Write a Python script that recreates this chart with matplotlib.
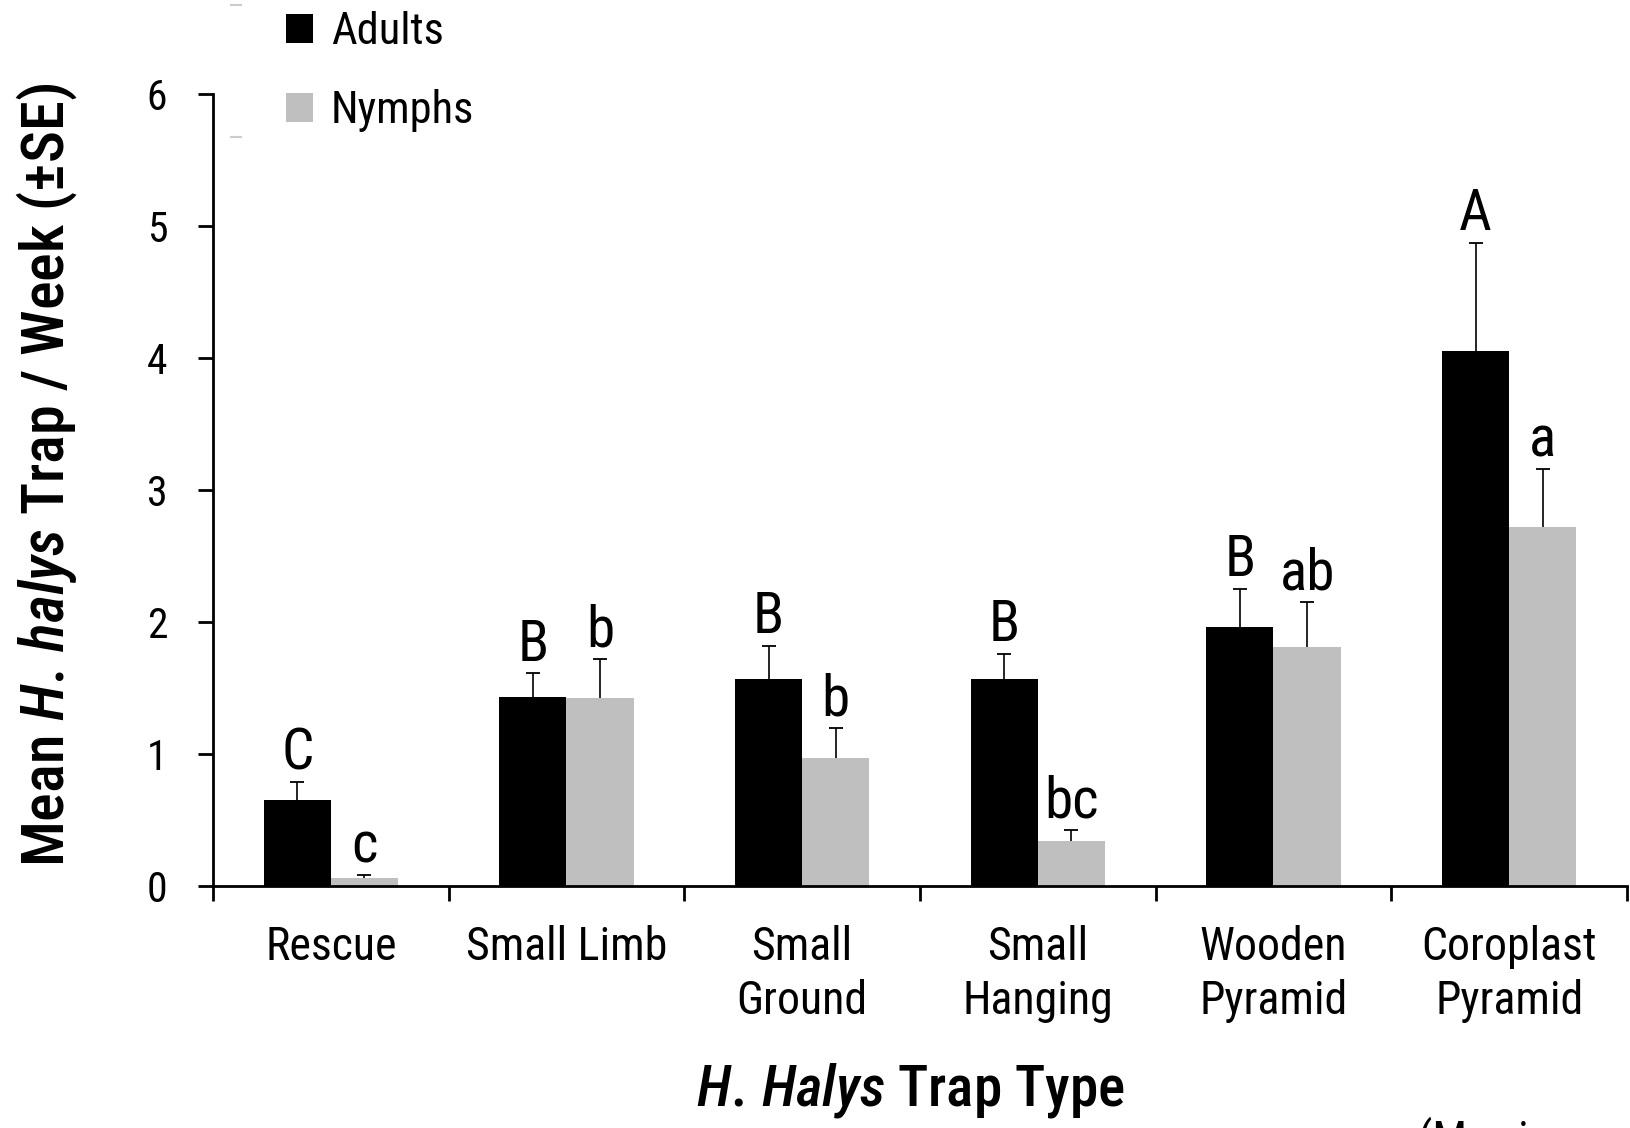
import matplotlib
matplotlib.use('Agg')
import matplotlib.pyplot as plt
from matplotlib import font_manager
from matplotlib.lines import Line2D
import numpy as np

# trap types and means
traps = ['Rescue', 'Small Limb', 'Small\nGround', 'Small\nHanging', 'Wooden\nPyramid', 'Coroplast\nPyramid']
adults = [0.65, 1.43, 1.57, 1.57, 1.96, 4.05]
adults_se = [0.14, 0.18, 0.25, 0.19, 0.29, 0.82]
nymphs = [0.06, 1.42, 0.97, 0.34, 1.81, 2.72]
nymphs_se = [0.02, 0.30, 0.23, 0.085, 0.34, 0.44]
adult_letters = ['C', 'B', 'B', 'B', 'B', 'A']
nymph_letters = ['c', 'b', 'b', 'bc', 'ab', 'a']

names = set(f.name for f in font_manager.fontManager.ttflist)
fam = 'Roboto Condensed' if 'Roboto Condensed' in names else 'Liberation Sans'
plt.rcParams['font.family'] = [fam, 'DejaVu Sans']
plt.rcParams['mathtext.fontset'] = 'custom'
plt.rcParams['mathtext.it'] = fam + ':italic:medium'
plt.rcParams['mathtext.rm'] = fam + ':medium'
plt.rcParams['mathtext.bf'] = fam + ':bold'

fig = plt.figure(figsize=(16.31, 11.28), dpi=100)
ax = fig.add_axes([213 / 1631, 1 - 886 / 1128, (1627 - 213) / 1631, (886 - 93.6) / 1128])

x = np.arange(len(traps))
w = 0.285
b1 = ax.bar(x - w / 2, adults, w, color='black', label='Adults')
b2 = ax.bar(x + w / 2, nymphs, w, color='#bfbfbf', label='Nymphs')

# upper error bars only
for xs, m, se in [(x - w / 2, adults, adults_se), (x + w / 2, nymphs, nymphs_se)]:
    top = np.array(m) + np.array(se)
    ax.vlines(xs, m, top, color='black', lw=1.2, zorder=3)
    ax.plot(xs, top, ls='none', marker='_', ms=10, mew=1.3, color='black', zorder=3)

for i in range(len(traps)):
    ax.annotate(adult_letters[i], (x[i] - w / 2, adults[i] + adults_se[i]),
                xytext=(0, 9), textcoords='offset points', ha='center', va='baseline', fontsize=41)
    ax.annotate(nymph_letters[i], (x[i] + w / 2, nymphs[i] + nymphs_se[i]),
                xytext=(0, 9), textcoords='offset points', ha='center', va='baseline', fontsize=41)

ax.set_xlim(-0.5, len(traps) - 0.5)
ax.set_ylim(0, 6)
ax.set_yticks(range(7))
ax.set_xticks(np.arange(-0.5, len(traps), 1.0))
ax.set_xticklabels([])
ax.set_xticks(x, minor=True)
ax.set_xticklabels(traps, minor=True, fontsize=33, va='top', linespacing=1.3)
ax.tick_params(axis='x', which='minor', length=0, pad=28)
ax.tick_params(axis='x', which='major', direction='out', length=11, width=2)
ax.tick_params(axis='y', direction='out', length=11, width=2, labelsize=30, pad=22)
for s in ['top', 'right']:
    ax.spines[s].set_visible(False)
for s in ['left', 'bottom']:
    ax.spines[s].set_linewidth(2)

fig.text(47 / 1631, 0.579, r'Mean $\mathit{H.\,halys}$ Trap / Week (±SE)', rotation=90,
         ha='center', va='center', fontsize=43.5, fontweight='medium')
fig.text(910 / 1631, 0.033, r'$\mathit{H.\,Halys}$ Trap Type', ha='center', va='center',
         fontsize=41, fontweight='medium')
fig.text(1418 / 1631, 1 - 1116 / 1128, '(Morrison et al. 2015)', ha='left', va='top',
         fontsize=33)

ax.legend(handles=[b1, b2], loc='upper left', bbox_to_anchor=(259 / 1631, 1.014),
          bbox_transform=fig.transFigure, frameon=False, fontsize=32,
          handlelength=0.62, handleheight=0.62, handletextpad=0.4, labelspacing=0.82,
          borderpad=0.1)

# faint remnants of the legend frame
fig.add_artist(Line2D([231 / 1631, 241 / 1631], [1 - 5 / 1128] * 2, color='#cccccc', lw=1.5))
fig.add_artist(Line2D([231 / 1631, 241 / 1631], [1 - 137 / 1128] * 2, color='#cccccc', lw=1.5))

fig.savefig('out.png', dpi=100)
